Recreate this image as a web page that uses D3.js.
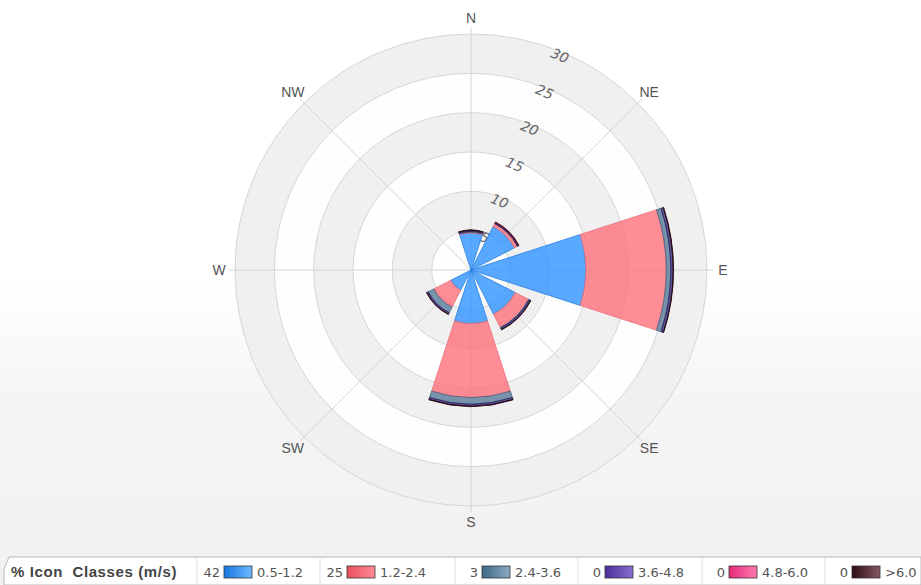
<!DOCTYPE html>
<html>
<head>
<meta charset="utf-8">
<script src="https://cdn.jsdelivr.net/npm/d3@7"></script>
<style>
  body { margin: 0; background: #fff; }
  svg { display: block; }
</style>
</head>
<body>
<div class="chart"></div>
<script>
// chart data
// ==========================================================================
var directions = ["N", "NE", "E", "SE", "S", "SW", "W", "NW"];
var speedClasses = ["0.5-1.2", "1.2-2.4", "2.4-3.6", "3.6-4.8", "4.8-6.0", ">6.0"];
var legendPercents = [42, 25, 3, 0, 0, 0];
var ringTicks = [5, 10, 15, 20, 25, 30];

// frequency (%) per direction for each speed class
var class0512 = [4.7, 6.2, 14.6, 6.3, 6.8, 2.9, 0, 0];
var class1224 = [0.1, 0.4, 10.2, 1.9, 9.4, 2.4, 0, 0];
var class2436 = [0.1, 0.05, 0.6, 0.1, 0.85, 0.8, 0, 0];
var class3648 = [0.15, 0.1, 0.3, 0.2, 0.25, 0.2, 0, 0];
var class4860 = [0, 0.05, 0, 0, 0, 0, 0, 0];
var class60up = [0.05, 0.05, 0.05, 0.05, 0.05, 0.05, 0, 0];

var classValues = [class0512, class1224, class2436, class3648, class4860, class60up];

// colours for the series, and for the legend icons (dark -> light)
var seriesFill = ["#2e93ff", "#ff707c", "#597d9b", "#3f2a80", "#ff3d8e", "#4a1a22"];
var seriesStroke = ["#2a7fe0", "#e8707c", "#44627c", "#2c1f5a", "#c02060", "#2a0a10"];
var iconLight = ["#6fb8ff", "#ff8a96", "#8eabc2", "#8a6fd0", "#ff7ab0", "#8a5a62"];
var iconDark = ["#1676e0", "#e8505e", "#3c6888", "#4a2d98", "#e82a7a", "#2a0a10"];

// set up chart configurations
// ==========================================================================
var svgWidth = 921;
var svgHeight = 585;
var cx = 471;
var cy = 270;
var outerRadius = 236;

var svg = d3.select(".chart")
  .append("svg")
  .attr("width", svgWidth)
  .attr("height", svgHeight);

var defs = svg.append("defs");

var bg = defs.append("linearGradient")
  .attr("id", "bgGrad")
  .attr("x1", 0).attr("y1", 0).attr("x2", 0).attr("y2", 1);
bg.append("stop").attr("offset", "0.48").attr("stop-color", "#ffffff");
bg.append("stop").attr("offset", "0.68").attr("stop-color", "#f5f5f5");
bg.append("stop").attr("offset", "1").attr("stop-color", "#f1f1f1");

svg.append("rect")
  .attr("width", svgWidth)
  .attr("height", svgHeight)
  .attr("fill", "url(#bgGrad)");

var chartGroup = svg.append("g")
  .attr("transform", `translate(${cx}, ${cy})`);

// scales
var rScale = d3.scaleLinear()
  .domain([0, 30])
  .range([0, outerRadius]);

var angleScale = d3.scaleBand()
  .domain(directions)
  .range([-Math.PI / 8, 2 * Math.PI - Math.PI / 8])
  .paddingInner(0.2)
  .paddingOuter(0.1);

// plot background and alternating bands
// ==========================================================================
chartGroup.append("circle")
  .attr("r", outerRadius)
  .attr("fill", "#fefefe");

var bandArc = d3.arc();
chartGroup.selectAll(".band")
  .data(ringTicks.filter((t, i) => i % 2 === 0))
  .enter()
  .append("path")
  .attr("class", "band")
  .attr("d", t => bandArc({
    innerRadius: rScale(t),
    outerRadius: rScale(t + 5),
    startAngle: 0,
    endAngle: 2 * Math.PI
  }))
  .attr("fill", "#ededed")
  .attr("opacity", 0.85);

// ring gridlines
chartGroup.selectAll(".ring")
  .data(ringTicks)
  .enter()
  .append("circle")
  .attr("class", "ring")
  .attr("r", d => rScale(d))
  .attr("fill", "none")
  .attr("stroke", "#d6d6d6")
  .attr("stroke-width", 1);

// radial gridlines
chartGroup.selectAll(".spoke")
  .data(directions)
  .enter()
  .append("line")
  .attr("class", "spoke")
  .attr("x1", 0)
  .attr("y1", 0)
  .attr("x2", d => Math.sin(angleScale(d) + angleScale.bandwidth() / 2) * (outerRadius + 6))
  .attr("y2", d => -Math.cos(angleScale(d) + angleScale.bandwidth() / 2) * (outerRadius + 6))
  .attr("stroke", "#d4d4d4")
  .attr("stroke-width", 1);

// ring labels, rotated along the 22.5 degree line
chartGroup.selectAll(".ringLabel")
  .data(ringTicks)
  .enter()
  .append("text")
  .attr("class", "ringLabel")
  .attr("transform", d => `rotate(22.5) translate(0, ${-(rScale(d) - 4)})`)
  .attr("text-anchor", "middle")
  .attr("dy", ".35em")
  .attr("font-family", "DejaVu Sans, sans-serif")
  .attr("font-size", "14px")
  .attr("font-style", "italic")
  .attr("fill", "#666")
  .text(d => d);

// stacked sectors
// ==========================================================================
var rows = directions.map(function(dir, i) {
  var row = { dir: dir };
  speedClasses.forEach(function(k, j) {
    row[k] = classValues[j][i];
  });
  return row;
});

var stacked = d3.stack().keys(speedClasses)(rows);

var sectorArc = d3.arc()
  .innerRadius(d => rScale(d[0]))
  .outerRadius(d => rScale(d[1]))
  .startAngle(d => angleScale(d.data.dir))
  .endAngle(d => angleScale(d.data.dir) + angleScale.bandwidth());

var seriesGroup = chartGroup.selectAll(".series")
  .data(stacked)
  .enter()
  .append("g")
  .attr("class", "series")
  .attr("fill", (s, i) => seriesFill[i])
  .attr("fill-opacity", 0.8)
  .attr("stroke", (s, i) => seriesStroke[i])
  .attr("stroke-width", 0.8);

seriesGroup.selectAll("path")
  .data(s => s.filter(d => d[1] - d[0] > 0))
  .enter()
  .append("path")
  .attr("d", sectorArc);

// direction labels
chartGroup.selectAll(".dirLabel")
  .data(directions)
  .enter()
  .append("text")
  .attr("class", "dirLabel")
  .attr("x", d => Math.sin(angleScale(d) + angleScale.bandwidth() / 2) * (outerRadius + 16))
  .attr("y", d => -Math.cos(angleScale(d) + angleScale.bandwidth() / 2) * (outerRadius + 16))
  .attr("text-anchor", "middle")
  .attr("dy", ".35em")
  .attr("font-family", "Liberation Sans, Arial, sans-serif")
  .attr("font-size", "14px")
  .attr("fill", "#555")
  .text(d => d);

// legend bar at the bottom
// ==========================================================================
var legendTop = 557;
var legend = svg.append("g");

legend.append("path")
  .attr("d", `M4,${svgHeight} L4,${legendTop + 12} L9,${legendTop} L${svgWidth},${legendTop} L${svgWidth},${svgHeight} Z`)
  .attr("fill", "#fff")
  .attr("stroke", "#b8b8b8")
  .attr("stroke-width", 1);

legend.append("text")
  .attr("x", 11)
  .attr("y", 577)
  .attr("font-family", "Liberation Sans, Arial, sans-serif")
  .attr("font-size", "15px")
  .attr("font-weight", "bold")
  .attr("letter-spacing", "0.6px")
  .attr("fill", "#444")
  .style("white-space", "pre")
  .text("% Icon  Classes (m/s)");

var itemX = [197, 320, 455, 578, 702, 825];

speedClasses.forEach(function(k, i) {
  var g = defs.append("linearGradient")
    .attr("id", "icon" + i)
    .attr("x1", 0).attr("y1", 0).attr("x2", 1).attr("y2", 0);
  g.append("stop").attr("offset", "0").attr("stop-color", iconDark[i]);
  g.append("stop").attr("offset", "1").attr("stop-color", iconLight[i]);
});

var items = legend.selectAll(".legendItem")
  .data(speedClasses)
  .enter()
  .append("g")
  .attr("class", "legendItem")
  .attr("transform", (d, i) => `translate(${itemX[i]}, 0)`);

items.append("line")
  .attr("x1", 0).attr("x2", 0)
  .attr("y1", legendTop).attr("y2", svgHeight)
  .attr("stroke", "#dedede");

items.append("text")
  .attr("x", 23)
  .attr("y", 577)
  .attr("text-anchor", "end")
  .attr("font-family", "DejaVu Sans, sans-serif")
  .attr("font-size", "13px")
  .attr("fill", "#555")
  .text((d, i) => legendPercents[i]);

items.append("rect")
  .attr("x", 27)
  .attr("y", 566)
  .attr("width", 28)
  .attr("height", 12)
  .attr("fill", (d, i) => `url(#icon${i})`)
  .attr("stroke", "#333")
  .attr("stroke-width", 0.8);

items.append("text")
  .attr("x", 60)
  .attr("y", 577)
  .attr("font-family", "DejaVu Sans, sans-serif")
  .attr("font-size", "13px")
  .attr("fill", "#555")
  .text(d => d);
</script>
</body>
</html>
